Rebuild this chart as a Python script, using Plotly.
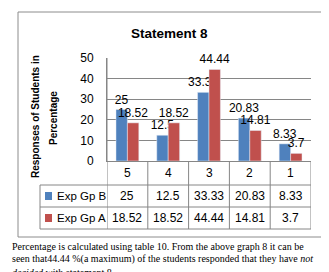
import plotly.graph_objects as go

categories = ["5", "4", "3", "2", "1"]
exp_gp_b = [25, 12.5, 33.33, 20.83, 8.33]
exp_gp_a = [18.52, 18.52, 44.44, 14.81, 3.7]
series_names = ["Exp Gp B", "Exp Gp A"]
colors = ["#4F81BD", "#C0504D"]
y_ticks = [0, 10, 20, 30, 40, 50]

W, H = 329, 272
L, R, T, B = 99, 26, 50, 119
pw, ph = W - L - R, H - T - B

def px(x):
    return (x - L) / pw

def py(y):
    return (H - B - y) / ph

fig = go.Figure()
for name, vals, col in zip(series_names, [exp_gp_b, exp_gp_a], colors):
    fig.add_trace(go.Bar(
        x=categories, y=vals, name=name, marker_color=col,
        text=[f"{v:g}" for v in vals], textposition="outside",
        constraintext="none", cliponaxis=False,
        textfont=dict(family="Liberation Sans", size=12, color="black"),
    ))

shapes = []
annotations = []
line_col = "#868686"

# outer border
shapes.append(dict(type="rect", xref="paper", yref="paper",
                   x0=px(10), x1=px(318), y0=py(229), y1=py(4),
                   line=dict(color="#8c8c8c", width=1)))

row_bounds = [177, 199, 221]
table_left = 32
for yb in row_bounds:
    shapes.append(dict(type="line", xref="paper", yref="paper",
                       x0=px(table_left), x1=1, y0=py(yb), y1=py(yb),
                       line=dict(color=line_col, width=1)))
shapes.append(dict(type="line", xref="paper", yref="paper",
                   x0=px(table_left), x1=px(table_left), y0=py(177), y1=py(221),
                   line=dict(color=line_col, width=1)))
for i in range(len(categories) + 1):
    xb = i - 0.5
    shapes.append(dict(type="line", xref="x", yref="paper",
                       x0=xb, x1=xb, y0=0 if i else 1, y1=py(221),
                       line=dict(color=line_col, width=1)))

tfont = dict(family="Liberation Sans", size=12, color="black")
for i, c in enumerate(categories):
    annotations.append(dict(x=i, y=py(165), xref="x", yref="paper",
                            text=c, showarrow=False, font=tfont,
                            xanchor="center", yanchor="middle"))
row_centers = [188, 210]
for name, vals, col, yc in zip(series_names, [exp_gp_b, exp_gp_a], colors, row_centers):
    shapes.append(dict(type="rect", xref="paper", yref="paper",
                       x0=px(37), x1=px(44), y0=py(yc + 4), y1=py(yc - 4),
                       fillcolor=col, line=dict(width=0)))
    annotations.append(dict(x=px(47), y=py(yc), xref="paper", yref="paper",
                            text=name, showarrow=False,
                            font=dict(family="Liberation Sans", size=11.5, color="black"),
                            xanchor="left", yanchor="middle"))
    for i, v in enumerate(vals):
        annotations.append(dict(x=i, y=py(yc), xref="x", yref="paper",
                                text=f"{v:g}", showarrow=False, font=tfont,
                                xanchor="center", yanchor="middle"))

# y-axis title (two lines)
ytitle_font = dict(family="Liberation Sans", size=10, color="black")
for txt, xc, yc in [("<b>Responses of Students in</b>", 27, 109),
                    ("<b>Percentage</b>", 45, 110)]:
    annotations.append(dict(x=px(xc), y=py(yc), xref="paper", yref="paper",
                            text=txt, textangle=-90, showarrow=False,
                            font=ytitle_font, xanchor="center", yanchor="middle"))

annotations.append(dict(x=px(161), y=py(25), xref="paper", yref="paper",
                        text="<b>Statement 8</b>", showarrow=False,
                        font=dict(family="Liberation Sans", size=13.5, color="black"),
                        xanchor="center", yanchor="middle"))

cap_font = dict(family="Liberation Serif", size=10, color="black")
caption = [
    "Percentage is calculated using table 10. From the above graph 8 it can be",
    "seen that44.44 %(a maximum) of the students responded that they have <i>not</i>",
    "<i>decided</i> with statement 8.",
]
for line, yc in zip(caption, [238, 251, 264]):
    annotations.append(dict(x=px(3), y=py(yc), xref="paper", yref="paper",
                            text=line, showarrow=False, font=cap_font,
                            xanchor="left", yanchor="middle", borderpad=0))

fig.update_layout(
    width=W, height=H,
    margin=dict(l=L, r=R, t=T, b=B, autoexpand=False),
    paper_bgcolor="white", plot_bgcolor="white",
    showlegend=False,
    barmode="group", bargap=0.44, bargroupgap=0,
    shapes=shapes, annotations=annotations,
    xaxis=dict(type="category", showticklabels=False, showgrid=False,
               zeroline=False, showline=True, linecolor=line_col, ticks="",
               range=[-0.5, 4.5], automargin=False),
    yaxis=dict(range=[0, 50], tickvals=y_ticks, showgrid=True,
               gridcolor=line_col, gridwidth=1, zeroline=False,
               showline=True, linecolor=line_col, ticks="",
               ticklabelstandoff=10, automargin=False,
               tickfont=dict(family="Liberation Sans", size=12, color="black")),
)

fig.write_html("out.html")
